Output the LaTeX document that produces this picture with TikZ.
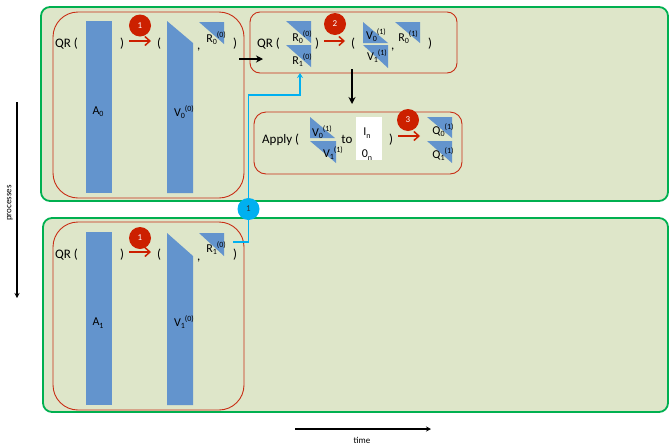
\documentclass[tikz,border=0pt]{standalone}
\usepackage{fontspec}
\setmainfont{Carlito}
\usetikzlibrary{arrows.meta}

\definecolor{panelfill}{RGB}{222,230,201}
\definecolor{panelline}{RGB}{0,176,80}
\definecolor{stepline}{RGB}{200,45,20}
\definecolor{blockblue}{RGB}{99,148,205}
\definecolor{stepred}{RGB}{204,32,0}
\definecolor{msgcyan}{RGB}{0,176,240}

% matrix label with subscript followed by superscript
\newcommand\mlbl[3]{#1\raisebox{-0.4ex}{\fontsize{8}{8}\selectfont #2}\raisebox{0.9ex}{\fontsize{8}{8}\selectfont #3}}
\newcommand\sublbl[2]{#1\raisebox{-0.4ex}{\fontsize{8}{8}\selectfont #2}}

\begin{document}
\begin{tikzpicture}[x=1pt,y=-1pt,
  panel/.style={draw=panelline,line width=1.8pt,fill=panelfill,rounded corners=9pt},
  stepbox/.style={draw=stepline,line width=0.9pt},
  blk/.style={fill=blockblue},
  txt/.style={inner sep=0pt,font=\fontsize{13}{13}\selectfont},
  lbl/.style={inner sep=0pt,font=\fontsize{12}{12}\selectfont},
  redarrow/.style={draw=stepred,line width=1.5pt,-{Straight Barb[length=5pt,width=9pt]}},
  flowarrow/.style={draw=black,line width=1.6pt,-{Stealth[length=7pt,width=7pt]}},
  axisarrow/.style={draw=black,line width=1.4pt,-{Stealth[length=5pt,width=5pt]}},
  stepnum/.style={circle,fill=stepred,minimum size=22pt,inner sep=0pt,text=white,font=\fontsize{9}{9}\selectfont},
  msgnum/.style={circle,fill=msgcyan,minimum size=22pt,inner sep=0pt,text=black!80,font=\fontsize{9}{9}\selectfont},
  msgline/.style={draw=msgcyan,line width=1.6pt}
]
\useasboundingbox (0,0) rectangle (669,445);

% process panels
\draw[panel] (41,7) rectangle (668,201);
\draw[panel] (43,218) rectangle (668,412);

% step frames
\draw[stepbox,rounded corners=25pt] (53,12) rectangle (244,198);
\draw[stepbox,rounded corners=10pt] (250,12) rectangle (457,73);
\draw[stepbox,rounded corners=12pt] (254,112) rectangle (462,174);
\draw[stepbox,rounded corners=25pt] (53,222) rectangle (244,410);

% ---- process 0, local QR
\fill[blk] (86,21) rectangle (112,193);
\fill[blk] (167,21) -- (193,43) -- (193,193) -- (167,193) -- cycle;
\fill[blk] (199,22) -- (224,22) -- (224,44) -- cycle;
\node[txt,anchor=base west] (qr0) at (55,47) {QR (};
\node[txt,anchor=base west] (cl0) at (120,47) {)};
\node[txt,anchor=base west] (op0) at (157,47) {(};
\node[txt,anchor=base west] (cm0) at (197,49) {,};
\node[txt,anchor=base west] (cr0) at (233,47) {)};
\node[lbl] (a0) at (98,112) {\sublbl{A}{0}};
\node[lbl] (v00) at (184,112) {\mlbl{V}{0}{(0)}};
\node[lbl] (r00) at (216,38) {\mlbl{R}{0}{(0)}};
\coordinate (ra0s) at (129,41);
\coordinate (ra0e) at (151,41);
\draw[redarrow] (ra0s) -- (ra0e);
\node[stepnum] (s1a) at (140,25.5) {1};

% ---- process 1, local QR
\fill[blk] (86,232) rectangle (112,405);
\fill[blk] (167,233) -- (193,256) -- (193,405) -- (167,405) -- cycle;
\fill[blk] (199,233) -- (224,233) -- (224,256) -- cycle;
\node[txt,anchor=base west] (qr1) at (55,258) {QR (};
\node[txt,anchor=base west] (cl1) at (120,258) {)};
\node[txt,anchor=base west] (op1) at (157,258) {(};
\node[txt,anchor=base west] (cm1) at (197,260) {,};
\node[txt,anchor=base west] (cr1) at (233,258) {)};
\node[lbl] (a1) at (98,323) {\sublbl{A}{1}};
\node[lbl] (v10) at (184,322) {\mlbl{V}{1}{(0)}};
\node[lbl] (r10) at (216,248) {\mlbl{R}{1}{(0)}};
\coordinate (ra1s) at (129,252);
\coordinate (ra1e) at (151,252);
\draw[redarrow] (ra1s) -- (ra1e);
\node[stepnum] (s1b) at (140,238) {1};

% ---- QR of the stacked R factors
\node[txt,anchor=base west] (qr2) at (257,47) {QR (};
\fill[blk] (286,21) -- (311,21) -- (311,43) -- cycle;
\fill[blk] (286,45) -- (311,45) -- (311,67) -- cycle;
\node[lbl] (r00b) at (302,37) {\mlbl{R}{0}{(0)}};
\node[lbl] (r10b) at (302,60) {\mlbl{R}{1}{(0)}};
\node[txt,anchor=base west] (cl2) at (315,47) {)};
\coordinate (ra2s) at (324,41);
\coordinate (ra2e) at (345,41);
\draw[redarrow] (ra2s) -- (ra2e);
\node[stepnum] (s2) at (335,24) {2};
\node[txt,anchor=base west] (op2) at (351,47) {(};
\fill[blk] (363,22) -- (363,43) -- (388,43) -- cycle;
\fill[blk] (363,45) -- (388,45) -- (388,68) -- cycle;
\node[lbl] (v01) at (376,35) {\mlbl{V}{0}{(1)}};
\node[lbl] (v11) at (377,56) {\mlbl{V}{1}{(1)}};
\node[txt,anchor=base west] (cm2) at (391,49) {,};
\fill[blk] (395,22) -- (420,22) -- (420,43) -- cycle;
\node[lbl] (r01) at (408,37) {\mlbl{R}{0}{(1)}};
\node[txt,anchor=base west] (cr2) at (428,47) {)};

% ---- apply the reflectors
\node[txt,anchor=base west] (ap) at (262,143) {Apply (};
\fill[blk] (310,117) -- (310,138) -- (335,138) -- cycle;
\fill[blk] (310,141) -- (336,141) -- (336,163) -- cycle;
\node[lbl] (v01b) at (322,132) {\mlbl{V}{0}{(1)}};
\node[lbl] (v11b) at (333,153) {\mlbl{V}{1}{(1)}};
\node[txt] (to) at (347,139) {to};
\fill[white] (356,117) rectangle (382,160);
\node[lbl] (in) at (367,133) {\sublbl{I}{n}};
\node[lbl] (zn) at (367,155) {\sublbl{0}{n}};
\node[txt,anchor=base west] (cl3) at (389,143) {)};
\coordinate (ra3s) at (398,136);
\coordinate (ra3e) at (420,136);
\draw[redarrow] (ra3s) -- (ra3e);
\node[stepnum] (s3) at (408,120) {3};
\fill[blk] (427,117) -- (452,117) -- (452,138) -- cycle;
\fill[blk] (427,141) -- (452,141) -- (452,163) -- cycle;
\node[lbl] (q01) at (443,130) {\mlbl{Q}{0}{(1)}};
\node[lbl] (q11) at (443,154) {\mlbl{Q}{1}{(1)}};

% ---- flow between steps
\coordinate (f1s) at (239,59);
\coordinate (f1e) at (263,59);
\draw[flowarrow] (f1s) -- (f1e);
\coordinate (f2s) at (352,69);
\coordinate (f2e) at (352,104);
\draw[flowarrow] (f2s) -- (f2e);

% ---- message R1 from process 1
\coordinate (m0) at (233,242);
\coordinate (m1) at (248.5,242);
\coordinate (m2) at (248.5,95);
\coordinate (m3) at (300,95);
\coordinate (m4) at (300,73);
\draw[msgline,-{Stealth[length=5pt,width=6pt]}] (m0) -- (m1) -- (m2) -- (m3) -- (m4);
\node[msgnum] (msg) at (248.5,209) {1};

% ---- axes
\coordinate (p0) at (17,102);
\coordinate (p1) at (17,298);
\draw[axisarrow] (p0) -- (p1);
\node[rotate=90,font=\fontsize{9}{9}\selectfont,inner sep=0pt] (plab) at (10,203) {processes};
\coordinate (t0) at (295,429);
\coordinate (t1) at (431,429);
\draw[axisarrow] (t0) -- (t1);
\node[font=\fontsize{9}{9}\selectfont,inner sep=0pt] (tlab) at (362,440) {time};
\end{tikzpicture}
\end{document}
